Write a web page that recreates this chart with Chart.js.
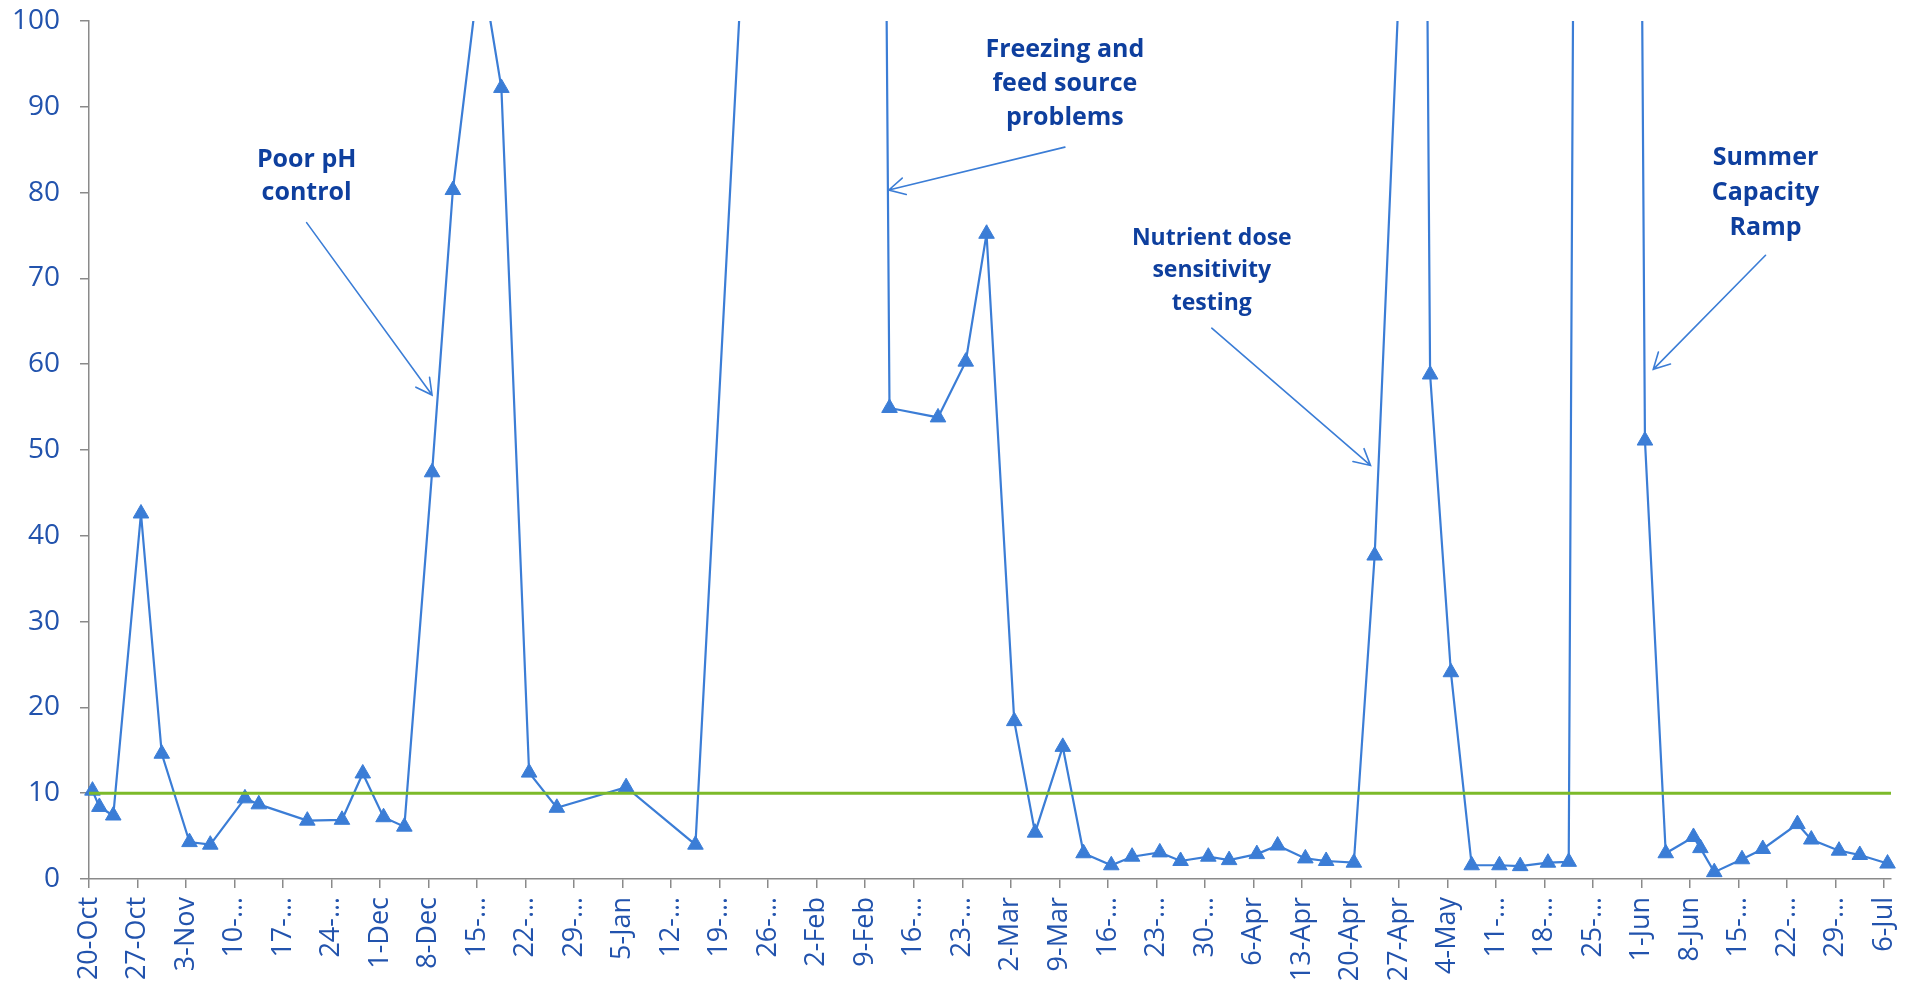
<!DOCTYPE html>
<html>
<head>
<meta charset="utf-8">
<title>Weekly readings</title>
<script src="https://cdn.jsdelivr.net/npm/chart.js@4.4.1/dist/chart.umd.min.js"></script>
<style>
  html, body { margin: 0; padding: 0; background: #ffffff; }
  #wrap { width: 1913px; height: 982px; }
</style>
</head>
<body>
<div id="wrap"><canvas id="chart" width="1913" height="982"></canvas></div>
<script>
// Week-start tick labels (long ones are shown shortened, as on the axis)
const weekLabels = [
  '20-Oct', '27-Oct', '3-Nov', '10-…', '17-…', '24-…', '1-Dec', '8-Dec', '15-…', '22-…',
  '29-…', '5-Jan', '12-…', '19-…', '26-…', '2-Feb', '9-Feb', '16-…', '23-…', '2-Mar',
  '9-Mar', '16-…', '23-…', '30-…', '6-Apr', '13-Apr', '20-Apr', '27-Apr', '4-May', '11-…',
  '18-…', '25-…', '1-Jun', '8-Jun', '15-…', '22-…', '29-…', '6-Jul'
];

// Sample dates and measured values
const sampleDates = [
  '2014-10-20', '2014-10-21', '2014-10-23', '2014-10-27', '2014-10-30', '2014-11-03', '2014-11-06', '2014-11-11',
  '2014-11-13', '2014-11-20', '2014-11-25', '2014-11-28', '2014-12-01', '2014-12-04', '2014-12-08', '2014-12-11',
  '2014-12-15', '2014-12-18', '2014-12-22', '2014-12-26', '2015-01-05', '2015-01-15', '2015-02-09', '2015-02-12',
  '2015-02-19', '2015-02-23', '2015-02-26', '2015-03-02', '2015-03-05', '2015-03-09', '2015-03-12', '2015-03-16',
  '2015-03-19', '2015-03-23', '2015-03-26', '2015-03-30', '2015-04-02', '2015-04-06', '2015-04-09', '2015-04-13',
  '2015-04-16', '2015-04-20', '2015-04-23', '2015-04-30', '2015-05-01', '2015-05-04', '2015-05-07', '2015-05-11',
  '2015-05-14', '2015-05-18', '2015-05-21', '2015-05-26', '2015-06-01', '2015-06-04', '2015-06-08', '2015-06-09',
  '2015-06-11', '2015-06-15', '2015-06-18', '2015-06-23', '2015-06-25', '2015-06-29', '2015-07-02', '2015-07-06'
];
const sampleValues = [
  10.3, 8.4, 7.4, 42.6, 14.6, 4.3, 4.0, 9.4,
  8.7, 6.8, 6.9, 12.3, 7.2, 6.1, 47.4, 80.3,
  107, 92.2, 12.4, 8.3, 10.7, 4.0, 385, 54.9,
  53.8, 60.3, 75.2, 18.4, 5.4, 15.4, 3.0, 1.6,
  2.6, 3.1, 2.1, 2.6, 2.2, 2.9, 3.9, 2.4,
  2.1, 1.9, 37.7, 170, 58.8, 24.1, 1.6, 1.6,
  1.5, 1.9, 2.0, 800, 51.1, 3.0, 4.9, 3.6,
  0.8, 2.3, 3.5, 6.4, 4.6, 3.3, 2.8, 1.8
];

// Limit line
const targetLevel = 10;

// Y axis ticks
const yTicks = [0, 10, 20, 30, 40, 50, 60, 70, 80, 90, 100];

// Callout notes
const calloutLines = [
  ['Poor pH', 'control'],
  ['Freezing and', 'feed source', 'problems'],
  ['Nutrient dose', 'sensitivity', 'testing'],
  ['Summer', 'Capacity', 'Ramp']
];

// ---------------------------------------------------------------------------

const axisStart = Date.UTC(2014, 9, 20);
const DAY = 86400000;
const axisDays = weekLabels.length * 7 - 6; // through the end of the last labelled day

function dayOffset(iso) {
  const [y, m, d] = iso.split('-').map(Number);
  return (Date.UTC(y, m - 1, d) - axisStart) / DAY;
}

// each sample sits in the middle of its day slot
const points = sampleDates.map((d, i) => ({ x: dayOffset(d) + 0.5, y: sampleValues[i] }));
const limitLine = [{ x: 0, y: targetLevel }, { x: axisDays, y: targetLevel }];

const lineBlue = '#3b7dd6';
const limitGreen = '#7cba2a';
const axisGrey = '#8a8a8a';
const tickBlue = '#2253ad';
const noteBlue = '#0e3f9e';

// Callout placement in axis units (day, value)
const calloutLayout = [
  { text: 0, at: [31.4, 83.8], size: 25, lh: 33, arrow: [[31.4, 76.5], [49.5, 56.4]] },
  { text: 1, at: [140.8, 96.6], size: 25, lh: 34, arrow: [[140.8, 85.3], [115.4, 80.3]] },
  { text: 2, at: [162.0, 74.7], size: 23, lh: 32.5, arrow: [[162.0, 64.2], [184.9, 48.2]] },
  { text: 3, at: [241.9, 84.1], size: 25, lh: 35, arrow: [[241.9, 72.7], [225.7, 59.4]] }
];

const calloutPlugin = {
  id: 'callouts',
  afterDraw(chart) {
    const { ctx, scales: { x, y } } = chart;
    ctx.save();
    calloutLayout.forEach(c => {
      const lines = calloutLines[c.text];
      ctx.font = `bold ${c.size}px "Open Sans", "DejaVu Sans", sans-serif`;
      ctx.fillStyle = noteBlue;
      ctx.textAlign = 'center';
      ctx.textBaseline = 'middle';
      const cx = x.getPixelForValue(c.at[0]);
      const cy = y.getPixelForValue(c.at[1]);
      lines.forEach((t, i) => ctx.fillText(t, cx, cy + i * c.lh));

      const x1 = x.getPixelForValue(c.arrow[0][0]);
      const y1 = y.getPixelForValue(c.arrow[0][1]);
      const x2 = x.getPixelForValue(c.arrow[1][0]);
      const y2 = y.getPixelForValue(c.arrow[1][1]);
      ctx.strokeStyle = lineBlue;
      ctx.lineWidth = 1.6;
      ctx.lineCap = 'round';
      ctx.beginPath();
      ctx.moveTo(x1, y1);
      ctx.lineTo(x2, y2);
      const ang = Math.atan2(y2 - y1, x2 - x1);
      const head = 18;
      const spread = 28 * Math.PI / 180;
      ctx.moveTo(x2 - head * Math.cos(ang - spread), y2 - head * Math.sin(ang - spread));
      ctx.lineTo(x2, y2);
      ctx.lineTo(x2 - head * Math.cos(ang + spread), y2 - head * Math.sin(ang + spread));
      ctx.stroke();
    });
    ctx.restore();
  }
};

const plotClip = { left: 14, right: 14, top: 0, bottom: 14 };

new Chart(document.getElementById('chart'), {
  type: 'line',
  data: {
    datasets: [
      {
        label: 'Limit',
        data: limitLine,
        borderColor: limitGreen,
        borderWidth: 3,
        pointRadius: 0,
        fill: false,
        clip: plotClip
      },
      {
        label: 'Reading',
        data: points,
        borderColor: lineBlue,
        backgroundColor: lineBlue,
        borderWidth: 2.2,
        pointStyle: 'triangle',
        pointRadius: 9,
        pointBorderWidth: 1,
        pointBackgroundColor: lineBlue,
        pointBorderColor: lineBlue,
        tension: 0,
        fill: false,
        clip: plotClip
      }
    ]
  },
  options: {
    responsive: false,
    animation: false,
    events: [],
    layout: { padding: { top: 21, right: 22, left: 0, bottom: 0 } },
    plugins: {
      legend: { display: false },
      tooltip: { enabled: false }
    },
    scales: {
      x: {
        type: 'linear',
        min: 0,
        max: axisDays,
        afterBuildTicks(scale) {
          scale.ticks = weekLabels.map((_, i) => ({ value: i * 7 }));
        },
        afterFit(scale) {
          scale.height = 103;
          scale.paddingLeft = 0;
          scale.paddingRight = 0;
        },
        ticks: {
          autoSkip: false,
          minRotation: 90,
          maxRotation: 90,
          padding: 9,
          color: tickBlue,
          font: { family: '"Open Sans", "DejaVu Sans", sans-serif', size: 27 },
          callback: (value, index) => weekLabels[index]
        },
        grid: {
          drawOnChartArea: false,
          drawTicks: true,
          tickLength: 9,
          color: axisGrey,
          lineWidth: 1.5
        },
        border: { display: true, color: axisGrey, width: 1.5 }
      },
      y: {
        min: 0,
        max: 100,
        afterBuildTicks(scale) {
          scale.ticks = yTicks.map(v => ({ value: v }));
        },
        afterFit(scale) {
          scale.width = 89;
          scale.paddingTop = 0;
          scale.paddingBottom = 0;
        },
        ticks: {
          padding: 20,
          color: tickBlue,
          font: { family: '"Open Sans", "DejaVu Sans", sans-serif', size: 28 }
        },
        grid: {
          drawOnChartArea: false,
          drawTicks: true,
          tickLength: 9,
          color: axisGrey,
          lineWidth: 1.5
        },
        border: { display: true, color: axisGrey, width: 1.5 }
      }
    }
  },
  plugins: [calloutPlugin]
});
</script>
</body>
</html>
